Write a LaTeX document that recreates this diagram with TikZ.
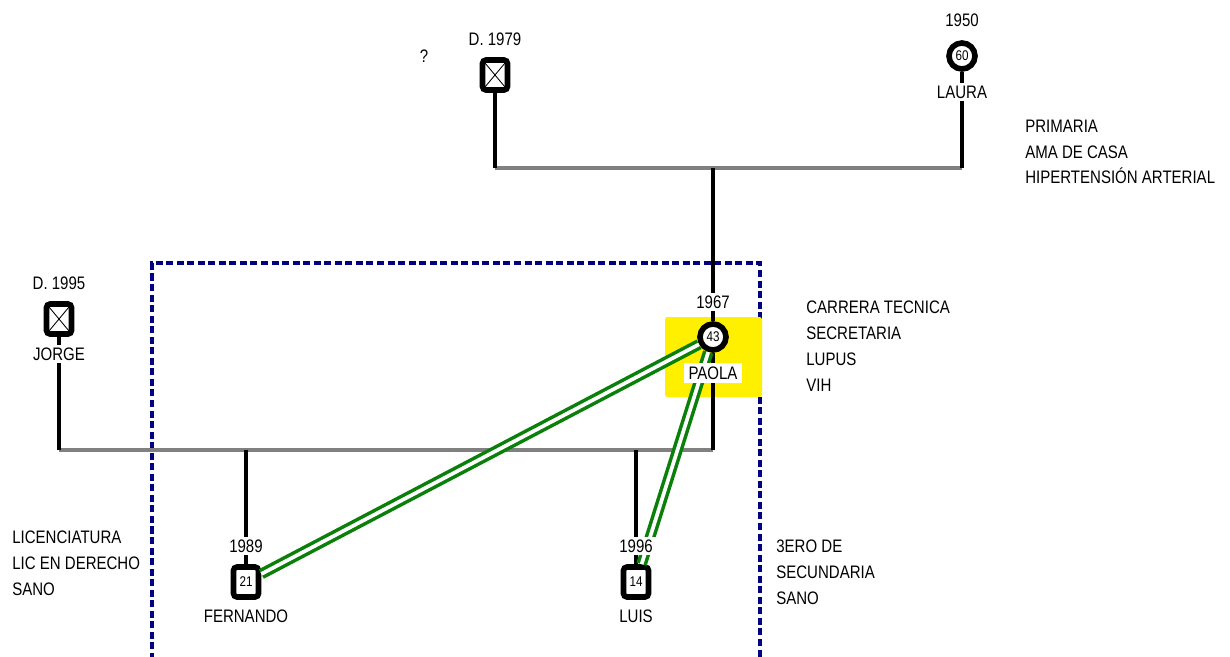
\documentclass[tikz,border=0pt]{standalone}
\usepackage{fontspec}
\setmainfont{Liberation Sans}[FakeStretch=0.83]
\usepackage{tikz}
\usetikzlibrary{positioning}
\definecolor{navyline}{RGB}{0,0,128}
\definecolor{bondgreen}{RGB}{10,128,10}
\definecolor{coupgray}{RGB}{128,128,128}
\definecolor{hilite}{RGB}{255,240,0}

\begin{document}
\begin{tikzpicture}[x=0.02cm, y=-0.02cm,
    every node/.style={font=\fontsize{10.3}{12}\selectfont},
    male/.style={rectangle, draw, fill=white, line width=3.2pt, rounded corners=2pt, minimum width=0.5cm, minimum height=0.6cm, inner sep=0pt, font=\fontsize{8}{8}\selectfont},
    female/.style={circle, draw, fill=white, line width=3.2pt, minimum size=0.52cm, inner sep=0pt, font=\fontsize{8}{8}\selectfont},
    dead/.style={male, path picture={\draw[line width=0.5pt] (path picture bounding box.south west) -- (path picture bounding box.north east) (path picture bounding box.north west) -- (path picture bounding box.south east);}},
    tag/.style={fill=white, inner sep=1.7pt},
    note/.style={align=left, anchor=west, inner sep=0pt, font=\fontsize{10.3}{14.7}\selectfont},
    desc/.style={line width=2.5pt},
    union/.style={line width=2.5pt, coupgray},
    bond/.style={draw=bondgreen, line width=2pt, double=white, double distance=2.1pt}
]
\useasboundingbox (0,0) rectangle (1230,656);
\draw[navyline, line width=2.3pt, dash pattern=on 4pt off 2pt] (152,660) -- (152,263) -- (760,263) -- (760,660);
\node[fill=hilite, rounded corners=1pt, minimum width=1.94cm, minimum height=1.6cm, inner sep=0pt] (hl) at (713.5,357) {};

\node[dead] (pad) at (495,75) {};
\node[female] (laura) at (962,56) {60};
\node[female] (paola) at (713,337) {43};
\node[dead] (jorge) at (59,319) {};
\node[male] (fer) at (246,582) {21};
\node[male] (luis) at (636,582) {14};

\coordinate (top) at (713,168);
\coordinate (bot) at (713,450);

\draw[union] (pad |- top) -- (laura |- top);
\draw[desc] (pad) -- (pad |- top);
\draw[desc] (laura) -- (laura |- top);
\draw[desc] (top) -- (paola);
\draw[union] (jorge |- bot) -- (bot);
\draw[desc] (jorge) -- (jorge |- bot);
\draw[desc] (paola) -- (bot);
\draw[desc] (bot -| fer) -- (fer);
\draw[desc] (bot -| luis) -- (luis);
\draw[bond] (paola) -- (fer);
\draw[bond] (paola) -- (luis);

\node (pad-q) at (424,56) {?};
\node[tag, above=0.16cm of pad] (pad-yr) {D. 1979};
\node[tag, above=0.21cm of laura] (laura-yr) {1950};
\node[tag, below=0.21cm of laura] (laura-nm) {LAURA};
\node[tag, above=0.19cm of paola] (paola-yr) {1967};
\node[tag, below=0.2cm of paola, inner xsep=2.5pt, inner ysep=2pt] (paola-nm) {PAOLA};
\node[tag, above=0.16cm of jorge] (jorge-yr) {D. 1995};
\node[tag, below=0.15cm of jorge] (jorge-nm) {JORGE};
\node[tag, above=0.17cm of fer] (fer-yr) {1989};
\node[tag, below=0.135cm of fer] (fer-nm) {FERNANDO};
\node[tag, above=0.17cm of luis] (luis-yr) {1996};
\node[tag, below=0.135cm of luis] (luis-nm) {LUIS};

\node[note] (laura-info) at (1025,152) {PRIMARIA\\AMA DE CASA\\HIPERTENSIÓN ARTERIAL};
\node[note] (paola-info) at (806,346) {CARRERA TECNICA\\SECRETARIA\\LUPUS\\VIH};
\node[note] (fer-info) at (12,563) {LICENCIATURA\\LIC EN DERECHO\\SANO};
\node[note] (luis-info) at (776,572) {3ERO DE\\SECUNDARIA\\SANO};
\end{tikzpicture}
\end{document}
